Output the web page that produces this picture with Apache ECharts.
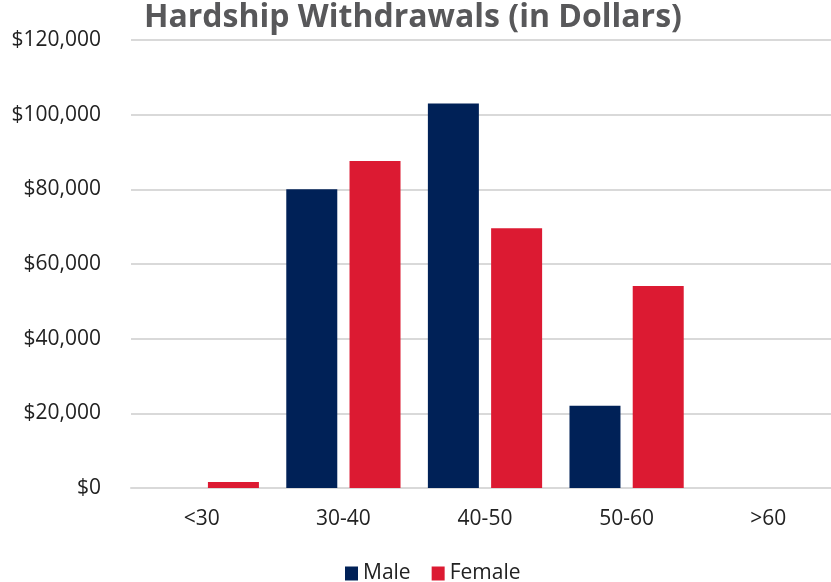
<!DOCTYPE html>
<html>
<head>
<meta charset="utf-8">
<script src="https://cdn.jsdelivr.net/npm/echarts@6/dist/echarts.min.js"></script>
<style>
  html, body { margin: 0; padding: 0; background: #fff; overflow: hidden; }
  #main { width: 840px; height: 582px; }
</style>
</head>
<body>
<div id="main"></div>
<script>
// age bands and withdrawal amounts
var ageBands = ['<30', '30-40', '40-50', '50-60', '>60'];
var maleValues = [0, 80000, 103000, 22000, 0];
var femaleValues = [1600, 87600, 69600, 54100, 0];
var seriesNames = ['Male', 'Female'];

var myChart = echarts.init(document.getElementById('main'));

var option = {
    animation: false,
    title: {
        text: 'Hardship Withdrawals (in Dollars)',
        left: 144,
        top: 2,
        padding: 0,
        textStyle: {
            color: '#58585a',
            fontFamily: 'Open Sans',
            fontWeight: 'bold',
            fontSize: 32
        }
    },
    legend: {
        data: seriesNames,
        left: 340,
        top: 558,
        icon: 'rect',
        itemWidth: 13,
        itemHeight: 14,
        itemGap: 21,
        textStyle: {
            color: '#222',
            fontFamily: 'Open Sans',
            fontSize: 21
        }
    },
    // plot runs a little past the right edge of the 831px window, as in the original
    grid: {
        left: 131,
        top: 40,
        right: 1,
        bottom: 94,
        containLabel: false
    },
    xAxis: {
        type: 'category',
        data: ageBands,
        axisTick: { show: false },
        axisLine: {
            show: true,
            lineStyle: { color: '#d9d9d9', width: 2 }
        },
        axisLabel: {
            margin: 21,
            color: '#222',
            fontFamily: 'Open Sans',
            fontSize: 21
        }
    },
    yAxis: {
        type: 'value',
        min: 0,
        max: 120000,
        interval: 20000,
        axisLine: { show: false },
        axisTick: { show: false },
        axisLabel: {
            margin: 30,
            color: '#222',
            fontFamily: 'Open Sans',
            fontSize: 21,
            formatter: function (v) {
                return '$' + v.toLocaleString('en-US');
            }
        },
        splitLine: {
            lineStyle: { color: '#d9d9d9', width: 2 }
        }
    },
    series: [
        {
            name: seriesNames[0],
            type: 'bar',
            data: maleValues,
            barWidth: 51,
            barGap: '24%',
            itemStyle: { color: '#002157' }
        },
        {
            name: seriesNames[1],
            type: 'bar',
            data: femaleValues,
            barWidth: 51,
            barGap: '24%',
            itemStyle: { color: '#dc1a32' }
        }
    ]
};

myChart.setOption(option);
</script>
</body>
</html>
